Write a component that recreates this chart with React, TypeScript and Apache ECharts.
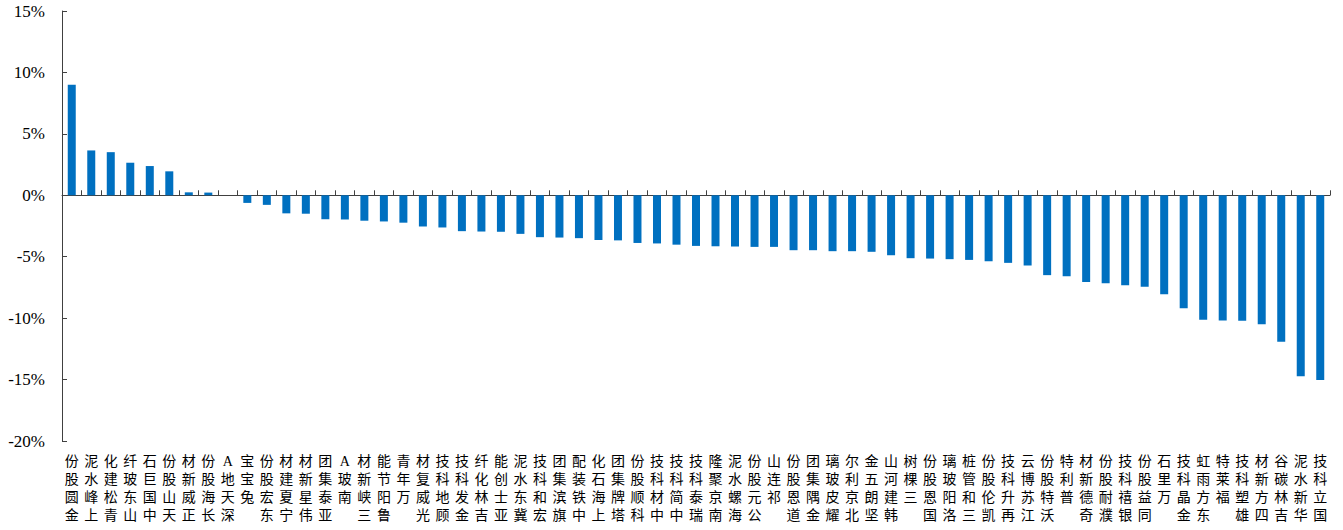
import React, { useEffect, useRef } from "react";
import * as echarts from "echarts";

const categories = [
  "金圆股份", "上峰水泥", "青松建化", "山东玻纤", "中国巨石", "天山股份", "正威新材", "长海股份", "深天地A", "兔宝宝",
  "东宏股份", "宁夏建材", "伟星新材", "亚泰集团", "南玻A", "三峡新材", "鲁阳节能", "万年青", "光威复材", "顾地科技",
  "金发科技", "吉林化纤", "亚士创能", "冀东水泥", "宏和科技", "旗滨集团", "中铁装配", "上海石化", "塔牌集团", "科顺股份",
  "中材科技", "中简科技", "瑞泰科技", "南京聚隆", "海螺水泥", "公元股份", "祁连山", "道恩股份", "金隅集团", "耀皮玻璃",
  "北京利尔", "坚朗五金", "韩建河山", "三棵树", "国恩股份", "洛阳玻璃", "三和管桩", "凯伦股份", "再升科技", "江苏博云",
  "沃特股份", "普利特", "奇德新材", "濮耐股份", "银禧科技", "同益股份", "万里石", "金晶科技", "东方雨虹", "福莱特",
  "雄塑科技", "四方新材", "吉林碳谷", "华新水泥", "国立科技",
];

const values = [
  9.0, 3.65, 3.51, 2.65, 2.38, 1.95, 0.24, 0.22, 0.0, -0.62,
  -0.78, -1.47, -1.5, -1.95, -1.97, -2.07, -2.13, -2.23, -2.54, -2.62,
  -2.92, -2.95, -2.97, -3.14, -3.41, -3.44, -3.49, -3.64, -3.67, -3.88,
  -3.92, -4.02, -4.12, -4.15, -4.17, -4.2, -4.2, -4.47, -4.47, -4.55,
  -4.55, -4.6, -4.88, -5.12, -5.15, -5.2, -5.26, -5.37, -5.5, -5.72,
  -6.5, -6.59, -7.05, -7.15, -7.32, -7.45, -8.05, -9.19, -10.14, -10.19,
  -10.22, -10.49, -11.92, -14.72, -15.04,
];

const yMin = -20;
const yMax = 15;
const yInterval = 5;

export default function App() {
  const ref = useRef<HTMLDivElement>(null);
  useEffect(() => {
    document.body.style.margin = "0";
    if (!ref.current) return;
    const chart = echarts.init(ref.current, undefined, { renderer: "svg" });
    const axisColor = "#404040";
    chart.setOption({
      animation: false,
      backgroundColor: "#ffffff",
      grid: { left: 62, right: 13, top: 11, bottom: 89, containLabel: false },
      xAxis: [
        {
          type: "category",
          data: categories,
          position: "bottom",
          boundaryGap: true,
          axisLine: { show: false, onZero: false },
          axisTick: { show: false },
          axisLabel: {
            interval: 0,
            margin: 11,
            fontSize: 14,
            lineHeight: 18,
            color: "#000",
            fontFamily: "'Liberation Serif', 'Noto Sans CJK SC', serif",
            verticalAlign: "top",
            formatter: (v: string) => Array.from(v).reverse().join("\n"),
          },
        },
        {
          type: "category",
          data: categories,
          position: "top",
          boundaryGap: true,
          axisLine: { show: true, onZero: true, lineStyle: { color: axisColor, width: 1 } },
          axisTick: { show: true, inside: false, length: 5, interval: 0, lineStyle: { color: axisColor } },
          axisLabel: { show: false },
        },
      ],
      yAxis: {
        type: "value",
        min: yMin,
        max: yMax,
        interval: yInterval,
        axisLine: { show: true, lineStyle: { color: axisColor, width: 1 } },
        axisTick: { show: true, inside: true, length: 5, lineStyle: { color: axisColor } },
        splitLine: { show: false },
        axisLabel: {
          formatter: "{value}%",
          fontSize: 17,
          margin: 17,
          color: "#000",
          fontFamily: "'Liberation Serif', 'Times New Roman', serif",
        },
      },
      series: [
        {
          type: "bar",
          xAxisIndex: 0,
          data: values,
          barWidth: 8,
          itemStyle: { color: "#0070C0" },
        },
      ],
    });
    return () => chart.dispose();
  }, []);
  return <div ref={ref} style={{ width: 1343, height: 530 }} />;
}
